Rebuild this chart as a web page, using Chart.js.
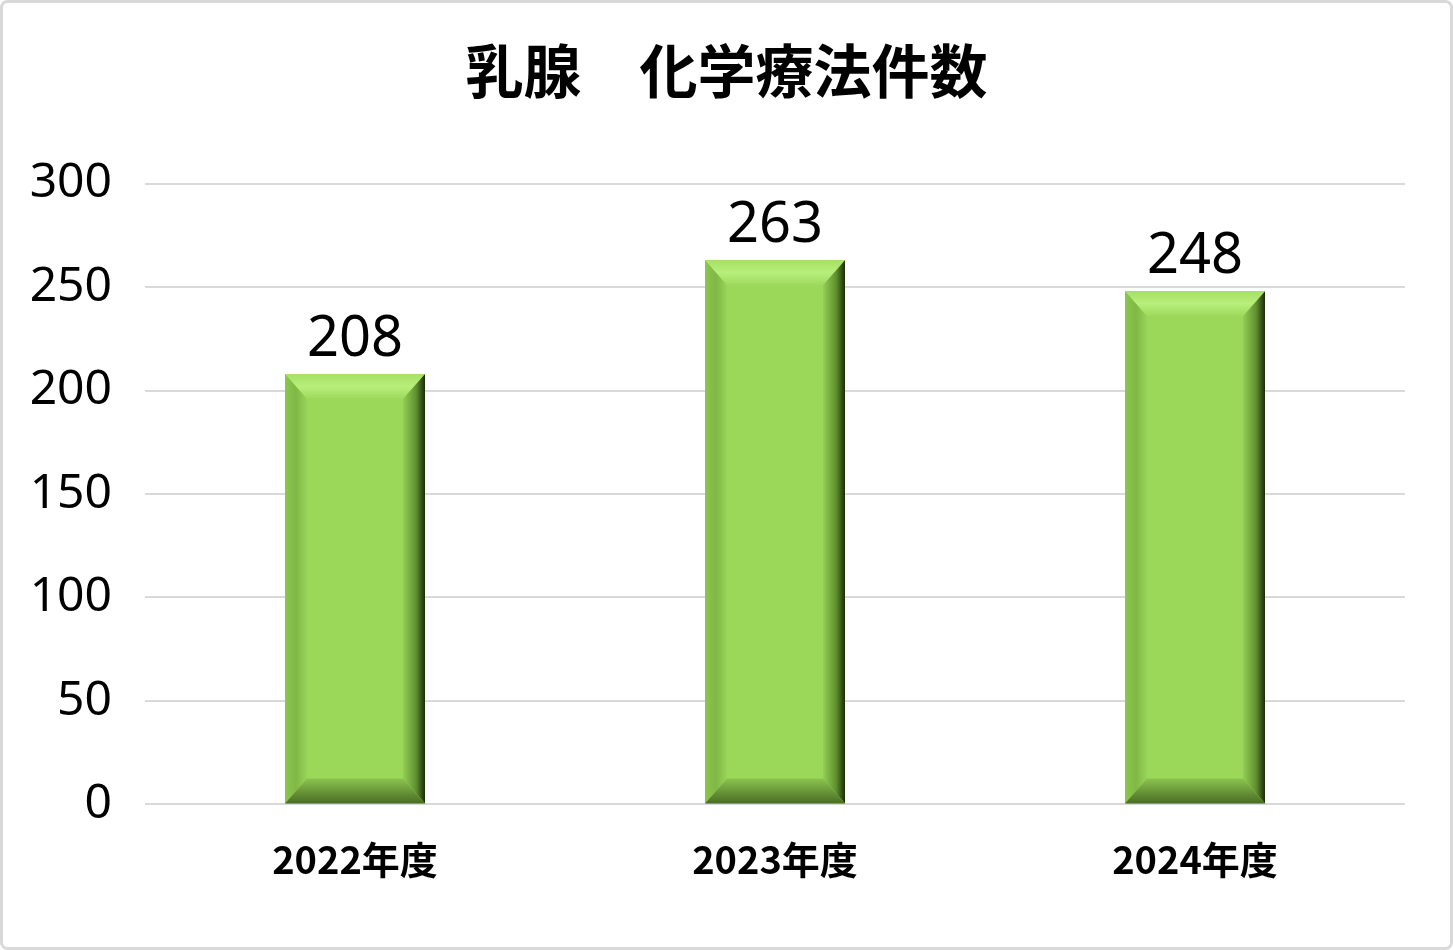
<!DOCTYPE html>
<html>
<head>
<meta charset="utf-8">
<script src="https://cdn.jsdelivr.net/npm/chart.js@4"></script>
<style>
  html, body { margin: 0; padding: 0; background: #fff; }
  #wrap { width: 1453px; height: 950px; position: relative; }
</style>
</head>
<body>
<div id="wrap"><canvas id="myChart" width="1453" height="950"></canvas></div>
<script>
// data
const categorias = ['2022年度', '2023年度', '2024年度'];
const casos = [208, 263, 248];
const ticksY = [0, 50, 100, 150, 200, 250, 300];

const fonteJP = '"Noto Sans CJK JP", "Noto Sans", sans-serif';
const fonteNum = '"Noto Sans", sans-serif';

// fundo e moldura
const moldura = {
  id: 'moldura',
  beforeDraw(chart) {
    const ctx = chart.ctx;
    ctx.save();
    ctx.fillStyle = '#fff';
    ctx.fillRect(0, 0, chart.width, chart.height);
    ctx.strokeStyle = '#d9d9d9';
    ctx.lineWidth = 3;
    ctx.beginPath();
    ctx.roundRect(1.5, 1.5, chart.width - 3, chart.height - 3, 6);
    ctx.stroke();
    ctx.restore();
  }
};

// efeito chanfrado nas barras + rotulos
const chanfro = {
  id: 'chanfro',
  afterDatasetsDraw(chart) {
    const ctx = chart.ctx;
    const meta = chart.getDatasetMeta(0);
    meta.data.forEach((bar, i) => {
      const l = bar.x - bar.width / 2, r = bar.x + bar.width / 2;
      const t = bar.y, b = bar.base;
      const bx = 22, by = 25;
      ctx.save();
      // topo
      let g = ctx.createLinearGradient(0, t, 0, t + by);
      g.addColorStop(0, '#a6e064');
      g.addColorStop(0.5, '#b8ef7c');
      g.addColorStop(1, '#9ed95c');
      ctx.fillStyle = g;
      ctx.beginPath();
      ctx.moveTo(l, t); ctx.lineTo(r, t); ctx.lineTo(r - bx, t + by); ctx.lineTo(l + bx, t + by); ctx.closePath();
      ctx.fill();
      // direita
      g = ctx.createLinearGradient(r - bx, 0, r, 0);
      g.addColorStop(0, '#93cf55');
      g.addColorStop(0.6, '#5f8f30');
      g.addColorStop(1, '#1a2c07');
      ctx.fillStyle = g;
      ctx.beginPath();
      ctx.moveTo(r, t); ctx.lineTo(r, b); ctx.lineTo(r - bx, b - by); ctx.lineTo(r - bx, t + by); ctx.closePath();
      ctx.fill();
      // esquerda
      g = ctx.createLinearGradient(l, 0, l + bx, 0);
      g.addColorStop(0, '#8bc64e');
      g.addColorStop(0.5, '#7fb845');
      g.addColorStop(1, '#98d45a');
      ctx.fillStyle = g;
      ctx.beginPath();
      ctx.moveTo(l, t); ctx.lineTo(l + bx, t + by); ctx.lineTo(l + bx, b - by); ctx.lineTo(l, b); ctx.closePath();
      ctx.fill();
      // base
      g = ctx.createLinearGradient(0, b - by, 0, b);
      g.addColorStop(0, '#8cc44f');
      g.addColorStop(0.6, '#648f35');
      g.addColorStop(1, '#4a6e24');
      ctx.fillStyle = g;
      ctx.beginPath();
      ctx.moveTo(l, b); ctx.lineTo(l + bx, b - by); ctx.lineTo(r - bx, b - by); ctx.lineTo(r, b); ctx.closePath();
      ctx.fill();
      ctx.restore();

      // rotulo de valor
      ctx.save();
      ctx.fillStyle = '#000';
      ctx.font = '56px ' + fonteNum;
      ctx.textAlign = 'center';
      ctx.textBaseline = 'alphabetic';
      ctx.fillText(casos[i], bar.x, t - 18);
      ctx.restore();
    });
  }
};

const ctx = document.getElementById('myChart').getContext('2d');

const chart = new Chart(ctx, {
  type: 'bar',
  data: {
    labels: categorias,
    datasets: [{
      label: '件数',
      data: casos,
      backgroundColor: '#9bd85a',
      borderWidth: 0,
      barPercentage: 1,
      categoryPercentage: 1 / 3
    }]
  },
  options: {
    responsive: false,
    animation: false,
    layout: { padding: { left: 0, right: 0, top: 0, bottom: 44 } },
    plugins: {
      legend: { display: false },
      tooltip: { enabled: false },
      title: {
        display: true,
        text: '乳腺　化学療法件数',
        color: '#000',
        font: { family: fonteJP, size: 58, weight: 'bold' },
        padding: { top: 36, bottom: 78 }
      }
    },
    scales: {
      x: {
        grid: { display: false },
        border: { display: false },
        ticks: {
          color: '#000',
          font: { family: fonteJP, size: 38, weight: 'bold' },
          padding: 24
        }
      },
      y: {
        min: 0,
        max: 300,
        afterBuildTicks(scale) { scale.ticks = ticksY.map(v => ({ value: v })); },
        afterFit(scale) { scale.width = 145; },
        grid: { color: '#d9d9d9', lineWidth: 2, drawTicks: false },
        border: { display: false },
        ticks: {
          color: '#000',
          font: { family: fonteNum, size: 48 },
          padding: 33
        }
      },
      // margem direita
      y2: {
        position: 'right',
        min: 0,
        max: 300,
        afterFit(scale) { scale.width = 48; },
        grid: { display: false },
        border: { display: false },
        ticks: { display: false }
      }
    }
  },
  plugins: [moldura, chanfro]
});
</script>
</body>
</html>
